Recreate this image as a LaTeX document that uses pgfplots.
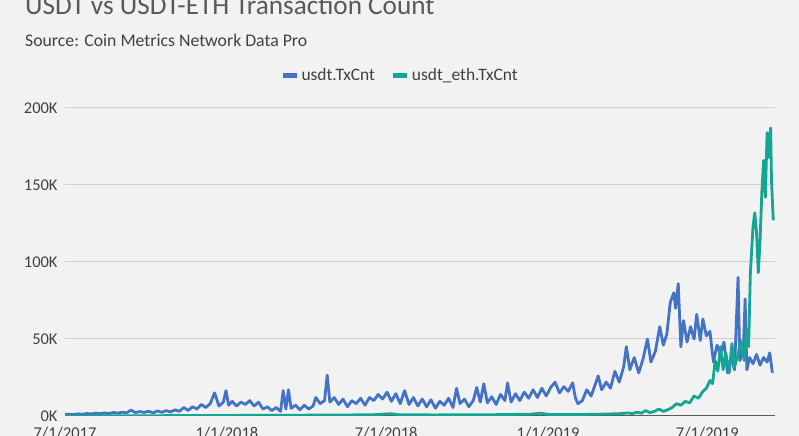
\documentclass[border=0pt]{standalone}
\usepackage{pgfplots}
\pgfplotsset{compat=1.18}
\usepackage{fontspec}
\setmainfont{Carlito}
\definecolor{bgc}{HTML}{F2F2F2}
\definecolor{cblue}{HTML}{4472C4}
\definecolor{cteal}{RGB}{21,165,147}
\definecolor{gridc}{HTML}{D0D0D0}
\definecolor{txtc}{HTML}{404040}
\definecolor{titc}{HTML}{595959}
\begin{document}
\begin{tikzpicture}[x=1bp,y=1bp]
\fill[bgc] (0,0) rectangle (799,436);
\pgfresetboundingbox
\useasboundingbox (0,0) rectangle (799,436);
\node[anchor=base west, inner sep=0, text=titc, font=\fontsize{27.3}{32}\selectfont] at (25,421) {USDT vs USDT-ETH Transaction Count};
\node[anchor=base west, inner sep=0, text=txtc, font=\fontsize{17.8}{21}\selectfont] at (25,389.5) {Source: Coin Metrics Network Data Pro};
\begin{axis}[
  at={(65bp,20bp)}, anchor=south west,
  scale only axis, width=710bp, height=308bp,
  xmin=0, xmax=807, ymin=0, ymax=200000,
  axis x line*=bottom, axis y line*=left,
  x axis line style={-, draw=titc, line width=1bp},
  y axis line style={draw=none},
  xtick={0,184,365,549,730},
  xticklabels={7/1/2017,1/1/2018,7/1/2018,1/1/2019,7/1/2019},
  ytick={0,50000,100000,150000,200000},
  yticklabels={0K,50K,100K,150K,200K},
  scaled y ticks=false,
  major tick length=0pt,
  ymajorgrids, grid style={gridc, line width=1bp},
  tick label style={text=txtc, font=\fontsize{16.5}{19}\selectfont},
  yticklabel style={xshift=-4bp},
  xticklabel style={yshift=-8bp},
  legend columns=2,
  legend style={at={(0.472,1.107)}, anchor=center, draw=none, fill=none,
    font=\fontsize{17.5}{21}\selectfont, text=txtc,
    /tikz/every even column/.append style={column sep=14bp}},
  legend image code/.code={\draw[line width=5bp] (0bp,0bp) -- (14bp,0bp);},
  every axis plot/.append style={line width=2.8bp, line join=round},
]
\addplot[cblue] coordinates {
(0,1000)(5,1200)(10,900)(15,1400)(20,1100)(25,1600)(30,1300)(35,1800)(40,1500)(45,2000)
(50,1600)(55,2300)(60,1800)(65,2500)(70,2000)(75,3800)(80,2200)(85,2900)(90,2300)(95,3100)
(100,2000)(105,3300)(110,2400)(115,3500)(120,2600)(125,4000)(130,3000)(135,5500)(140,3600)(145,6000)
(150,4500)(155,7500)(160,5500)(165,8000)(170,15000)(175,6500)(180,9000)(183,16500)(186,7000)(190,9500)
(195,6500)(200,9000)(205,7500)(210,10000)(215,6500)(220,9000)(225,4500)(230,6000)(235,3500)(240,5500)
(245,3000)(248,16500)(251,4500)(254,17000)(257,5000)(262,7000)(267,4000)(272,7000)(277,4500)(282,6500)
(285,12000)(290,8000)(295,10000)(298,26500)(301,9000)(306,12000)(311,7500)(316,11000)(321,6000)(326,10000)
(331,8000)(336,11500)(341,7000)(346,12000)(351,10000)(356,14000)(361,11000)(366,15500)(371,9500)(376,14500)
(381,8000)(386,16500)(391,7500)(396,12000)(401,6500)(406,11000)(411,6000)(416,10500)(421,5000)(426,9500)
(431,7000)(436,11500)(441,5500)(445,18000)(449,8000)(454,11000)(459,6000)(464,10000)(468,18500)(472,9000)
(476,21000)(480,8500)(485,12500)(490,7500)(495,14000)(500,10000)(503,21500)(507,9000)(512,14500)(517,10000)
(522,15500)(527,11500)(532,17000)(537,12000)(542,18000)(547,13000)(552,18500)(557,22000)(562,15000)(567,19000)
(572,16000)(577,21500)(580,12000)(583,8000)(588,10000)(593,17000)(598,13000)(603,21000)(606,26000)(610,17000)
(615,22000)(620,18000)(625,29000)(630,22000)(635,32000)(638,45000)(642,30000)(647,38000)(652,28000)(657,37000)
(662,50000)(666,35000)(671,42000)(676,58000)(680,46000)(684,53000)(688,74000)(692,80000)(694,70000)(697,86000)
(700,45000)(703,62000)(707,48000)(711,58000)(715,50000)(718,66000)(722,49000)(725,63000)(729,52000)(733,55000)
(737,35000)(741,46000)(745,40000)(749,48000)(753,28000)(757,38000)(761,30000)(765,90000)(767,36000)(771,42000)
(773,76000)(775,30000)(778,38000)(782,34000)(786,40000)(790,33000)(794,38000)(798,35000)(801,41000)(804,28000)
};
\addlegendentry{usdt.TxCnt}
\addplot[cteal] coordinates {
(0,0)(50,100)(100,200)(150,300)(200,400)(250,500)(300,600)(350,800)(370,1500)(380,800)
(420,700)(460,800)(500,900)(530,1200)(540,1800)(550,1000)(580,900)(610,1200)(630,1500)(640,2000)
(645,1500)(650,2500)(655,1800)(660,3500)(665,2200)(670,3000)(675,4500)(680,3000)(685,4000)(690,5500)
(695,8000)(700,7000)(705,9500)(710,8500)(715,13000)(720,11500)(725,16000)(729,18000)(733,23000)(736,21000)
(739,36000)(742,29000)(745,45000)(748,30000)(751,41000)(755,28000)(758,47000)(761,32000)(765,40000)(768,49000)
(772,36000)(775,56000)(777,45000)(779,93000)(782,123000)(784,132000)(786,119000)(788,93000)(790,114000)(792,145000)
(794,166000)(796,142000)(798,184000)(800,168000)(802,187000)(803,153000)(805,127000)
};
\addlegendentry{usdt\_eth.TxCnt}
\end{axis}
\end{tikzpicture}
\end{document}
